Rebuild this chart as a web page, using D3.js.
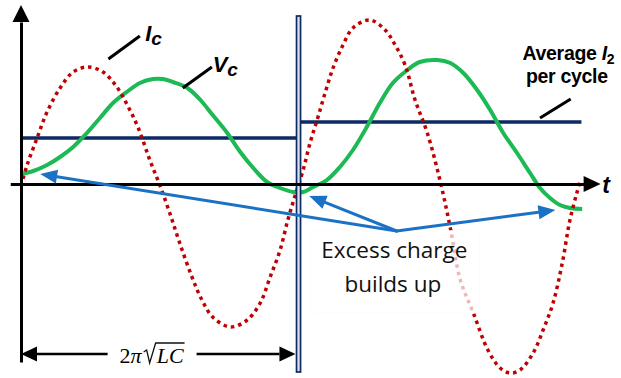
<!DOCTYPE html>
<html><head><meta charset="utf-8">
<script src="https://cdn.jsdelivr.net/npm/d3@7"></script>
<style>html,body{margin:0;padding:0;background:#fff;} svg{display:block;}</style>
</head><body>
<svg id="chart" width="621" height="378"></svg>
<script>
// ---- data (phase in degrees, one cycle = 360° = 2π√LC; values in arbitrary units) ----
const icPhase = [0,8,21,34,51,68,87,107,125,140,153,168,181,194,207,223,236,250,273,295,312,325,338,348,357,368,377,387,397,407,420,433,455,475,488,501,514,530,547,560,573,590,609,625,638,651,668,681,694,706,716,725,730];
const icValue = [-0.02,0.19,0.46,0.72,0.96,1.12,1.17,1.12,0.97,0.77,0.56,0.24,-0.01,-0.29,-0.59,-0.93,-1.16,-1.33,-1.43,-1.36,-1.19,-0.93,-0.66,-0.36,-0.13,0.14,0.41,0.66,0.92,1.16,1.39,1.56,1.64,1.54,1.39,1.19,0.84,0.51,0.02,-0.44,-0.96,-1.29,-1.66,-1.84,-1.89,-1.86,-1.69,-1.46,-1.19,-0.79,-0.36,-0.09,0.04];
const vcPhase = [0,16,34,51,68,86,103,120,138,155,172,185,198,217,234,250,269,286,303,321,338,355,368,381,399,416,433,451,468,485,504,520,543,560,577,595,612,629,647,664,677,690,703,716,732];
const vcValue = [0.10,0.13,0.19,0.27,0.37,0.51,0.66,0.81,0.92,1.01,1.05,1.05,1.02,0.96,0.84,0.69,0.51,0.32,0.16,0.02,-0.04,-0.08,-0.08,-0.03,0.04,0.17,0.34,0.57,0.81,1.01,1.14,1.22,1.24,1.21,1.11,0.94,0.74,0.51,0.31,0.11,-0.04,-0.14,-0.21,-0.24,-0.25];
const avgCycleStart = [0, 363];
const avgCycleEnd = [363, 731];
const avgCycleValue = [0.46, 0.62];
const periodMark = 362;
const arrowOrigin = [490, -0.47];
const arrowTargets = [[25, 0.10], [376, -0.12], [697, -0.26]];
const labels = ["I", "c", "V", "c", "Average ", "I", "2", "per cycle", "t", "Excess charge", "builds up"];

// ---- scales ----
const x = d3.scaleLinear().domain([0, 360]).range([21, 297]);
const y = d3.scaleLinear().domain([-1.9, 1.84]).range([374, 0]);
const svg = d3.select('#chart');

const NAVY = '#0d2a63', GREEN = '#1db954', RED = '#c00000', BLUE = '#1b72c4';

function arrowHead(g, tip, from, len, hw, color) {
  const dx = tip[0]-from[0], dy = tip[1]-from[1], d = Math.hypot(dx, dy);
  const ux = dx/d, uy = dy/d, bx = tip[0]-ux*len, by = tip[1]-uy*len;
  g.append('path')
    .attr('d', `M${tip[0]},${tip[1]}L${bx-uy*hw},${by+ux*hw}L${bx+uy*hw},${by-ux*hw}Z`)
    .attr('fill', color);
  return [bx, by];
}

const line = d3.line().x(d => x(d[0])).y(d => y(d[1])).curve(d3.curveCatmullRom.alpha(0.5));

// average current (step)
const avgPts = [];
avgCycleStart.forEach((s, i) => { avgPts.push([s, avgCycleValue[i]]); avgPts.push([avgCycleEnd[i], avgCycleValue[i]]); });
svg.append('path').attr('d', d3.line().x(d => x(d[0])).y(d => y(d[1]))(avgPts))
  .attr('fill', 'none').attr('stroke', NAVY).attr('stroke-width', 3.5).attr('stroke-linejoin', 'round');

// Vc
svg.append('path').attr('d', line(vcPhase.map((p, i) => [p, vcValue[i]])))
  .attr('fill', 'none').attr('stroke', GREEN).attr('stroke-width', 4);

// Ic dotted
svg.append('path').attr('d', line(icPhase.map((p, i) => [p, icValue[i]])))
  .attr('fill', 'none').attr('stroke', RED).attr('stroke-width', 3.5).attr('stroke-dasharray', '3.5 4');

// period marker (double line)
svg.append('rect').attr('x', x(periodMark) - 2).attr('width', 4)
  .attr('y', y(1.68)).attr('height', y(-1.88) - y(1.68))
  .attr('fill', '#dde3ec').attr('stroke', NAVY).attr('stroke-width', 1.7);

// axes
const xAxisScale = d3.scaleLinear().domain([-14, 734]).range([x(-14), x(734)]);
svg.append('g').attr('transform', `translate(0,${y(0)})`)
  .call(d3.axisBottom(xAxisScale).tickValues([]).tickSizeOuter(0))
  .call(g => g.select('.domain').attr('stroke', '#000').attr('stroke-width', 3));
arrowHead(svg, [x(756), y(0)], [x(0), y(0)], 17, 8, '#000');
const yAxisScale = d3.scaleLinear().domain([-1.78, 1.62]).range([y(-1.78), y(1.62)]);
svg.append('g').attr('transform', `translate(${x(0)},0)`)
  .call(d3.axisLeft(yAxisScale).tickValues([]).tickSizeOuter(0))
  .call(g => g.select('.domain').attr('stroke', '#000').attr('stroke-width', 3));
arrowHead(svg, [x(0), y(1.79)], [x(0), y(0)], 17, 8.5, '#000');

// leader lines
const leaderLines = [[[114, 1.25], [155, 1.48]], [[211, 0.96], [249, 1.17]], [[677, 0.66], [717, 0.85]]];
leaderLines.forEach(l => svg.append('line')
  .attr('x1', x(l[0][0])).attr('y1', y(l[0][1])).attr('x2', x(l[1][0])).attr('y2', y(l[1][1]))
  .attr('stroke', '#000').attr('stroke-width', 3));

// text box
svg.append('rect').attr('x', x(377)).attr('y', y(-0.46)).attr('width', x(598) - x(377)).attr('height', y(-1.29) - y(-0.46))
  .attr('rx', 8).attr('fill', 'rgba(255,255,255,0.72)').attr('stroke', 'rgba(0,0,0,0.02)');

// blue arrows
const o = [x(arrowOrigin[0]), y(arrowOrigin[1])];
arrowTargets.forEach(t => {
  const tip = [x(t[0]), y(t[1])];
  const base = arrowHead(svg, tip, o, 17, 7, BLUE);
  svg.append('line').attr('x1', o[0]).attr('y1', o[1]).attr('x2', base[0]).attr('y2', base[1])
    .attr('stroke', BLUE).attr('stroke-width', 3).attr('stroke-linecap', 'round');
});

// labels
const lab = svg.append('g').attr('font-family', '"Liberation Sans", Arial, sans-serif').attr('font-weight', 'bold');
const ic = lab.append('text').attr('x', x(162)).attr('y', y(1.43)).attr('font-size', 22).attr('font-style', 'italic');
ic.append('tspan').text(labels[0]);
ic.append('tspan').attr('dy', 4).attr('font-size', 19).text(labels[1]);
const vc = lab.append('text').attr('x', x(250)).attr('y', y(1.12)).attr('font-size', 22).attr('font-style', 'italic');
vc.append('tspan').text(labels[2]);
vc.append('tspan').attr('dy', 4).attr('font-size', 19).text(labels[3]);
const av = lab.append('text').attr('x', x(714)).attr('y', y(1.24)).attr('font-size', 19.5).attr('text-anchor', 'middle').attr('letter-spacing', -0.3);
av.append('tspan').text(labels[4]);
av.append('tspan').attr('font-style', 'italic').text(labels[5]);
av.append('tspan').attr('dy', 4).attr('font-size', 14).text(labels[6]);
lab.append('text').attr('x', x(712)).attr('y', y(1.01)).attr('font-size', 19.5).attr('text-anchor', 'middle').attr('letter-spacing', -0.3).text(labels[7]);
lab.append('text').attr('x', x(758)).attr('y', y(-0.09)).attr('font-size', 23).attr('font-style', 'italic').text(labels[8]);

const ex = svg.append('g').attr('font-family', '"Open Sans", sans-serif').attr('font-size', 22.5).attr('fill', '#111').attr('text-anchor', 'middle');
ex.append('text').attr('x', x(487)).attr('y', y(-0.74)).text(labels[9]);
ex.append('text').attr('x', x(485)).attr('y', y(-1.08)).text(labels[10]);

// period bracket
const by = y(-1.7), bl = x(0), br = x(358);
const pb = svg.append('g');
const ltip = arrowHead(pb, [bl, by], [br, by], 16, 7.5, '#000');
const rtip = arrowHead(pb, [br, by], [bl, by], 16, 7.5, '#000');
const fg = pb.append('g').attr('font-family', '"Liberation Serif", "DejaVu Serif", serif').attr('font-size', 22);
const t1 = fg.append('text').attr('x', 0).attr('y', 0).text('2');
const w2 = t1.node().getComputedTextLength();
const t2 = fg.append('text').attr('x', w2).attr('y', 0).attr('font-style', 'italic').text('π');
const wPi = t2.node().getComputedTextLength();
const rx = w2 + wPi + 2;
const t3 = fg.append('text').attr('x', rx + 13).attr('y', 0).attr('font-style', 'italic').text('LC');
const wLC = t3.node().getComputedTextLength();
fg.append('path').attr('d', `M${rx},-11L${rx+3},-13L${rx+6},0L${rx+12},-20H${rx+14+wLC}`)
  .attr('fill', 'none').attr('stroke', '#111').attr('stroke-width', 1.3).attr('stroke-linejoin', 'miter');
const total = rx + 14 + wLC;
const cx = x(171);
fg.attr('transform', `translate(${cx - total/2},${y(-1.79)})`);
pb.append('line').attr('x1', ltip[0]).attr('x2', cx - total/2 - 12).attr('y1', by).attr('y2', by).attr('stroke', '#000').attr('stroke-width', 2.5);
pb.append('line').attr('x1', cx + total/2 + 12).attr('x2', rtip[0]).attr('y1', by).attr('y2', by).attr('stroke', '#000').attr('stroke-width', 2.5);
</script>
</body></html>
